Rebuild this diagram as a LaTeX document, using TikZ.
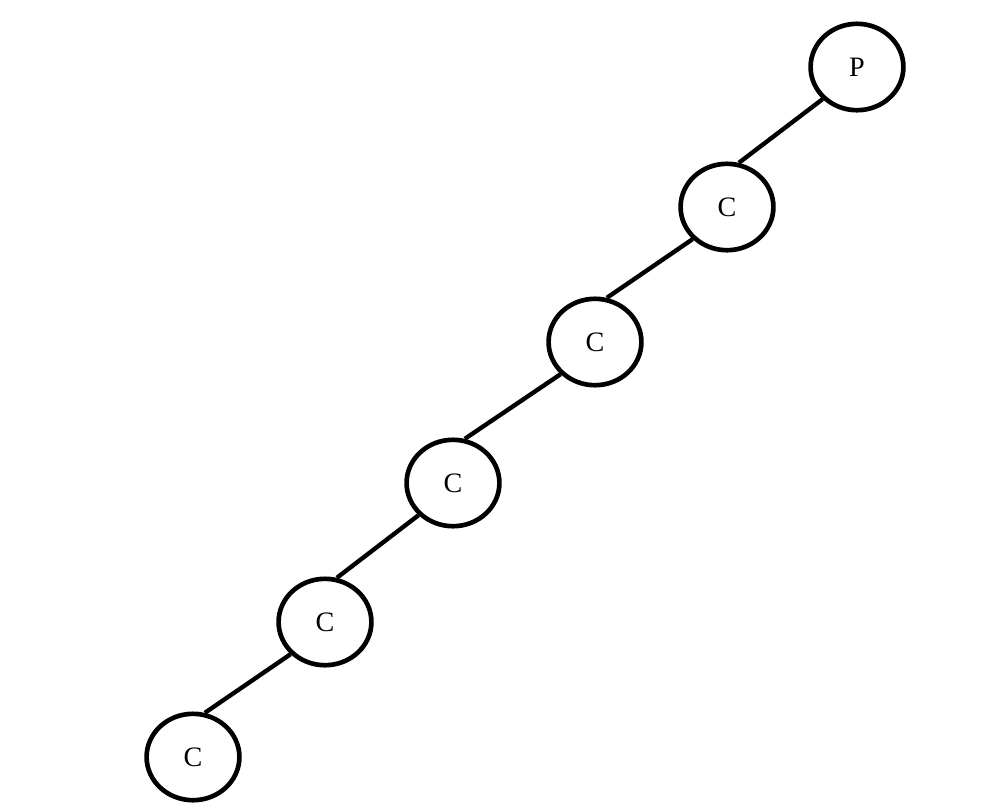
\documentclass[tikz,border=0pt]{standalone}
\usepackage{fontspec}
\setmainfont{Liberation Serif}
\usetikzlibrary{shapes.geometric}
\tikzset{
    chain/.style={
        draw=black,
        line width=3.3pt,
        ellipse,
        minimum width=2.32cm,
        minimum height=2.16cm,
        inner sep=0pt,
        font=\fontsize{20}{24}\selectfont
    },
    link/.style={
        draw=black,
        line width=3.1pt
    }
}
\begin{document}
\begin{tikzpicture}[x=0.025cm, y=-0.025cm]

    % page frame
    \useasboundingbox (0,0) rectangle (998,810);

    % ============================================================================
    % NODES
    % ============================================================================

    % Parent at the top right
    \node[chain] (P) at (857,67) {P};

    % Children down to the bottom left
    \node[chain] (C1) at (727,207) {C};
    \node[chain] (C2) at (595,342) {C};
    \node[chain] (C3) at (453,483) {C};
    \node[chain] (C4) at (325,622) {C};
    \node[chain] (C5) at (193,757) {C};

    % ============================================================================
    % LINKS
    % ============================================================================

    \draw[link] (P.south west) -- (C1.75);
    \draw[link] (C1.south west) -- (C2.75);
    \draw[link] (C2.south west) -- (C3.75);
    \draw[link] (C3.south west) -- (C4.75);
    \draw[link] (C4.south west) -- (C5.75);

\end{tikzpicture}
\end{document}
